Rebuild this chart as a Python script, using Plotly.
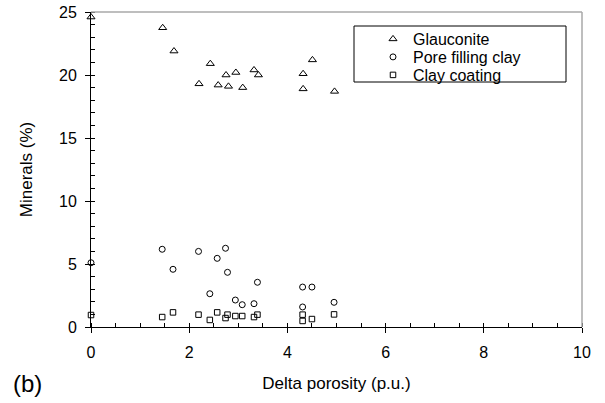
import plotly.graph_objects as go

# Data
delta_porosity = [0, 1.45, 1.67, 2.19, 2.42, 2.57, 2.74, 2.78, 2.94, 3.08, 3.32, 3.39, 4.31, 4.31, 4.50, 4.95]
glauconite_x = [0, 1.46, 1.69, 2.20, 2.43, 2.59, 2.75, 2.80, 2.95, 3.09, 3.32, 3.41, 4.32, 4.32, 4.51, 4.96]
glauconite = [24.6, 23.75, 21.9, 19.3, 20.9, 19.2, 20.0, 19.1, 20.2, 19.0, 20.4, 20.0, 20.1, 18.9, 21.2, 18.7]
pore_filling_clay = [5.1, 6.17, 4.58, 6.0, 2.64, 5.45, 6.25, 4.34, 2.14, 1.77, 1.85, 3.55, 3.17, 1.59, 3.17, 1.96]
clay_coating = [0.95, 0.79, 1.16, 0.98, 0.56, 1.16, 0.71, 0.98, 0.87, 0.87, 0.79, 0.98, 0.98, 0.48, 0.63, 1.0]

series_names = ["Glauconite", "Pore filling clay", "Clay coating"]
x_ticks = [0, 2, 4, 6, 8, 10]
y_ticks = [0, 5, 10, 15, 20, 25]

FONT = "Liberation Sans, Arial, sans-serif"

fig = go.Figure()
fig.add_trace(go.Scatter(
    x=glauconite_x, y=glauconite, mode="markers", name=series_names[0],
    marker=dict(symbol="triangle-up-open", size=7, color="black", line=dict(width=1, color="black")),
    cliponaxis=False, legend="legend"))
fig.add_trace(go.Scatter(
    x=delta_porosity, y=pore_filling_clay, mode="markers", name=series_names[1],
    marker=dict(symbol="circle-open", size=6, color="black", line=dict(width=1, color="black")),
    cliponaxis=False, legend="legend2"))
fig.add_trace(go.Scatter(
    x=delta_porosity, y=clay_coating, mode="markers", name=series_names[2],
    marker=dict(symbol="square-open", size=5.5, color="black", line=dict(width=1, color="black")),
    cliponaxis=False, legend="legend3"))

L, R, T, B = 91, 23, 12, 76
W, H = 605, 403
pw, ph = W - L - R, H - T - B

def px2x(px):
    return (px - L) / pw

def py2y(py):
    return (H - B - py) / ph

leg_common = dict(bgcolor="rgba(0,0,0,0)", borderwidth=0, xanchor="left", yanchor="middle",
                  font=dict(family=FONT, size=16, color="black"), itemwidth=30,
                  tracegroupgap=0)
legx = px2x(373)

fig.update_layout(
    width=W, height=H,
    margin=dict(l=L, r=R, t=T, b=B, pad=0, autoexpand=False),
    paper_bgcolor="white", plot_bgcolor="white",
    font=dict(family=FONT, size=16, color="black"),
    showlegend=True,
    legend=dict(x=legx, y=py2y(39), **leg_common),
    legend2=dict(x=legx, y=py2y(57), **leg_common),
    legend3=dict(x=legx, y=py2y(75), **leg_common),
    xaxis=dict(
        range=[0, 10], tickvals=x_ticks, ticktext=[str(v) for v in x_ticks],
        showline=True, linecolor="black", linewidth=1, showgrid=False, zeroline=False,
        ticks="outside", ticklen=5, tickcolor="black", tickwidth=1, automargin=False,
        ticklabelstandoff=6,
        minor=dict(dtick=0.5, tick0=0, ticks="inside", ticklen=4, tickcolor="black", showgrid=False),
        tickfont=dict(family=FONT, size=16),
        title=dict(text="Delta porosity (p.u.)", font=dict(family=FONT, size=17), standoff=16),
    ),
    yaxis=dict(
        range=[0, 25], tickvals=y_ticks, ticktext=[str(v) for v in y_ticks],
        showline=True, linecolor="black", linewidth=1, showgrid=False, zeroline=False,
        ticks="outside", ticklen=5, tickcolor="black", tickwidth=1, automargin=False,
        ticklabelstandoff=5,
        minor=dict(dtick=1, tick0=0, ticks="inside", ticklen=4, tickcolor="black", showgrid=False),
        tickfont=dict(family=FONT, size=16),
        title=dict(text="Minerals (%)", font=dict(family=FONT, size=17), standoff=22),
    ),
    shapes=[
        dict(type="line", xref="paper", yref="paper", x0=0, x1=1, y0=1, y1=1,
             line=dict(color="#a8a8a8", width=1.5)),
        dict(type="line", xref="paper", yref="paper", x0=1, x1=1, y0=0, y1=1,
             line=dict(color="#a8a8a8", width=1.5)),
        dict(type="rect", xref="paper", yref="paper",
             x0=px2x(354), x1=px2x(566), y0=py2y(82), y1=py2y(26),
             line=dict(color="black", width=1), fillcolor="white", layer="below"),
    ],
    annotations=[
        dict(text="(b)", xref="paper", yref="paper", x=px2x(27), y=py2y(383),
             xanchor="center", yanchor="middle", showarrow=False,
             font=dict(family=FONT, size=24, color="black")),
    ],
)

fig.write_html("out.html", config={"displayModeBar": False},
               post_script="document.body.style.margin='0';document.body.style.overflow='hidden';")
